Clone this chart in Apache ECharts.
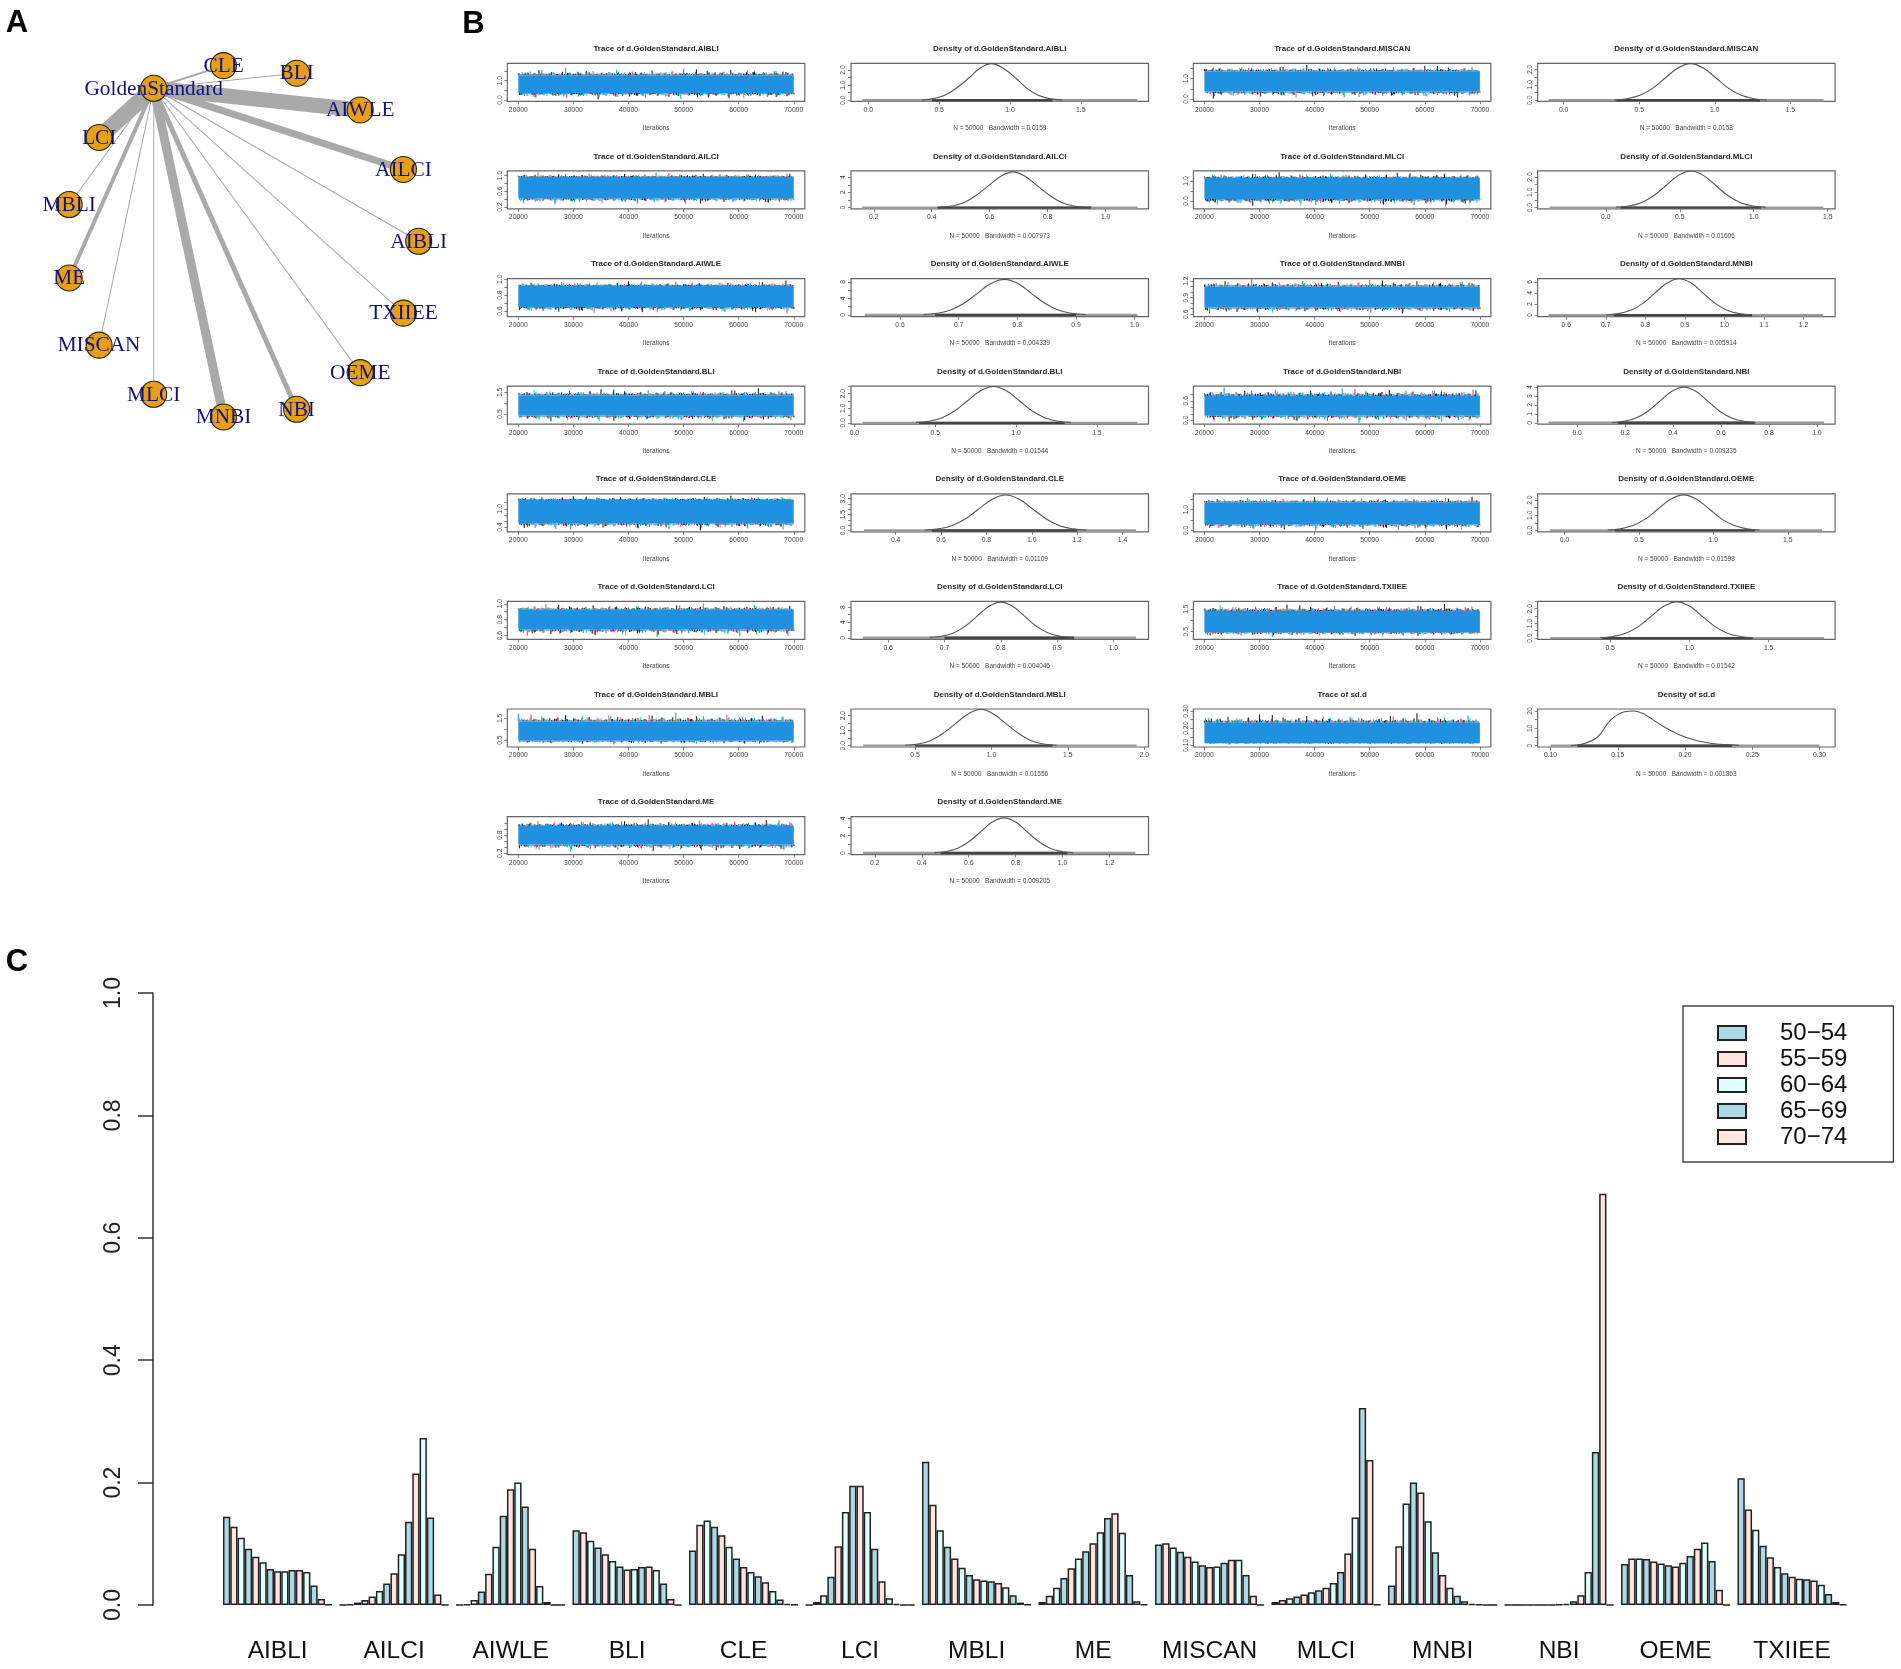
<!DOCTYPE html>
<html><head><meta charset="utf-8">
<style>html,body{margin:0;padding:0;background:#fff}#c{width:1901px;height:1669px}#c canvas{filter:blur(.45px)}</style>
<script src="https://cdn.jsdelivr.net/npm/echarts@6/dist/echarts.min.js"></script>
</head><body><div id="c"></div>
<script>
// ---------- Panel A data ----------
const networkNodes = ['AIBLI','TXIIEE','OEME','NBI','MNBI','MLCI','MISCAN','ME','MBLI','LCI','GoldenStandard','CLE','BLI','AIWLE','AILCI'];
const networkHub = 'GoldenStandard';
const networkWeights = {AIBLI:1,TXIIEE:1,OEME:1,NBI:5,MNBI:9,MLCI:1,MISCAN:1,ME:4,MBLI:1,LCI:16,CLE:2,BLI:1,AIWLE:15,AILCI:7};

// ---------- Panel B data ----------
const tracePanels = ['AIBLI','AILCI','AIWLE','BLI','CLE','LCI','MBLI','ME','MISCAN','MLCI','MNBI','NBI','OEME','TXIIEE','sd.d'];
const bandwidths = ['0.0159','0.007973','0.004339','0.01544','0.01109','0.004046','0.01556','0.009205','0.0158','0.01606','0.005914','0.009335','0.01598','0.01542','0.001863'];
const traceXTicks = [20000,30000,40000,50000,60000,70000];
const traceYRange = [[-.07,1.9],[.15,1.118],[.53,1.008],[.023,1.79],[.247,1.49],[.552,1.03],[.18,1.93],[.156,1.42],[-.115,1.75],[-.4,1.5],[.558,1.247],[-.12,1.05],[-.063,1.746],[.157,1.84],[.0904,.3116]];
const traceYTicks = [[0,.5,1,1.5],[.2,.4,.6,.8,1],[.6,.7,.8,.9,1],[.5,1,1.5],[.4,.6,.8,1,1.2],[.6,.7,.8,.9,1],[.5,1,1.5],[.2,.4,.6,.8,1,1.2],[0,.5,1,1.5],[0,.5,1],[.6,.7,.8,.9,1,1.1,1.2],[0,.2,.4,.6,.8],[0,.5,1,1.5],[.5,1,1.5],[.1,.15,.2,.25,.3]];
const traceYLabels = [[0,1],[.2,.6,1],[.6,.8,1],[.5,1.5],[.4,1],[.6,.8,1],[.5,1.5],[.2,.8],[0,1],[0,1],[.6,.9,1.2],[0,.6],[0,1],[.5,1.5],[.1,.2,.3]];
const traceBand = [[.36,1.28],[.42,.96],[.65,.915],[.42,1.37],[.53,1.29],[.68,.925],[.47,1.35],[.49,1.11],[.36,1.36],[.09,1.14],[.72,1.10],[.15,.75],[.3,1.34],[.47,1.42],[.114,.232]];
const traceSpikeEnds = [[.02,1.65],[.26,1.08],[.567,.98],[.12,1.68],[.29,1.42],[.58,1.0],[.3,1.76],[.25,1.33],[.02,1.66],[-.28,1.43],[.61,1.23],[-.08,1.0],[0,1.6],[.28,1.72],[.105,.285]];
const spikeUp = [.18,.32,.12,.44,.22,.09,.62,.27,.15,.36,.11,.24,.95,.3,.14,.41,.2,.08,.33,.52,.17,.26,.1,.38,.21,.7,.13,.29,.16,.47,.09,.25,.35,.12,.58,.23,.19,.31,.07,.43,.16,.28,.83,.2,.11,.37,.24,.14,.5,.18,.3,.1,.4,.22,.66,.15,.27,.12,.34,.19,.45,.08,.26,.31,.13,.55,.21,.17,.39,.1];
const spikeDown = [.24,.1,.39,.17,.56,.13,.28,.42,.09,.21,.34,.15,.72,.26,.12,.47,.19,.31,.08,.23,.91,.16,.37,.11,.29,.53,.14,.2,.44,.1,.33,.18,.64,.25,.07,.38,.15,.3,.49,.12,.22,.8,.17,.35,.09,.27,.41,.13,.6,.2,.32,.11,.24,.46,.16,.1,.36,.75,.19,.28,.08,.4,.14,.52,.23,.12,.3,.18,.43,.09];
const chainColors = ['#1c1c1c','#2090e0','#d9505c','#2090e0','#1c1c1c','#27b070','#2090e0','#36c4d8','#1c1c1c','#cf62b8'];

const densityXTicks = [[0,.5,1,1.5],[.2,.4,.6,.8,1],[.6,.7,.8,.9,1],[0,.5,1,1.5],[.4,.6,.8,1,1.2,1.4],[.6,.7,.8,.9,1],[.5,1,1.5,2],[.2,.4,.6,.8,1,1.2],[0,.5,1,1.5],[0,.5,1,1.5],[.6,.7,.8,.9,1,1.1,1.2],[0,.2,.4,.6,.8,1],[0,.5,1,1.5],[.5,1,1.5],[.1,.15,.2,.25,.3]];
const densityXRange = [[-.122,1.978],[.1215,1.148],[.5166,1.0236],[-.021,1.819],[.2034,1.5145],[.534,1.0623],[.0804,2.028],[.0985,1.366],[-.172,1.796],[-.461,1.55],[.5275,1.28],[-.165,1.076],[-.181,1.818],[.0425,1.919],[.0904,.3116]];
const densityYRange = [[-.066,2.44],[-.17,4.82],[-.4,8.8],[-.09,2.52],[-.125,3.47],[-.43,9.48],[-.09,2.44],[-.19,4.19],[-.065,2.39],[-.087,2.39],[-.24,6.6],[-.15,4.11],[-.09,2.42],[-.09,2.5],[-.76,21.1]];
const densityYTicks = [[0,.5,1,1.5,2],[0,1,2,3,4],[0,2,4,6,8],[0,.5,1,1.5,2,2.5],[0,.5,1,1.5,2,2.5,3],[0,2,4,6,8],[0,.5,1,1.5,2],[0,1,2,3,4],[0,.5,1,1.5,2],[0,.5,1,1.5,2],[0,2,4,6],[0,1,2,3,4],[0,.5,1,1.5,2],[0,.5,1,1.5,2,2.5],[0,5,10,15,20]];
const densityYLabels = [[0,1,2],[0,2,4],[0,4,8],[0,1,2],[0,1.5,3],[0,4,8],[0,1,2],[0,2,4],[0,1,2],[0,1,2],[0,2,4,6],[0,1,2,3,4],[0,1,2],[0,1,2],[0,10,20]];
const densityCurveX = [
 [.38,.46,.54,.62,.71,.79,.87,.95,1.04,1.12,1.2,1.28,1.37],
 [.425,.47,.51,.55,.595,.64,.68,.72,.765,.81,.85,.89,.935],
 [.64,.663,.686,.709,.732,.755,.778,.801,.824,.847,.87,.893,.916],
 [.38,.46,.54,.62,.7,.78,.86,.94,1.02,1.1,1.18,1.26,1.34],
 [.528,.588,.647,.707,.766,.826,.885,.945,1.004,1.064,1.123,1.183,1.242],
 [.674,.695,.716,.737,.758,.779,.8,.821,.842,.863,.884,.905,.926],
 [.435,.52,.6,.68,.765,.85,.93,1.01,1.095,1.18,1.26,1.34,1.425],
 [.455,.505,.553,.602,.652,.7,.75,.8,.848,.898,.947,.996,1.045],
 [.335,.42,.504,.588,.672,.756,.84,.924,1.008,1.092,1.176,1.26,1.345],
 [.07,.155,.239,.323,.407,.491,.575,.659,.743,.827,.911,.995,1.08],
 [.7,.733,.763,.794,.824,.855,.885,.916,.946,.977,1.007,1.038,1.068],
 [.145,.195,.245,.295,.345,.395,.445,.495,.545,.595,.645,.695,.745],
 [.29,.375,.46,.545,.63,.715,.8,.885,.97,1.055,1.14,1.225,1.31],
 [.437,.518,.598,.68,.76,.84,.92,1,1.08,1.16,1.24,1.32,1.4],
 [.115,.125,.135,.145,.155,.162,.17,.18,.19,.2,.21,.22,.23,.24]];
const densityCurveY = [
 [.03,.11,.33,.79,1.47,2.13,2.42,2.13,1.47,.79,.33,.11,.03],
 [.05,.21,.63,1.53,2.85,4.15,4.7,4.15,2.85,1.53,.63,.21,.05],
 [.09,.38,1.16,2.8,5.22,7.59,8.6,7.59,5.22,2.8,1.16,.38,.09],
 [.03,.11,.34,.81,1.52,2.2,2.5,2.2,1.52,.81,.34,.11,.03],
 [.04,.15,.45,1.09,2.03,2.95,3.35,2.95,2.03,1.09,.45,.15,.04],
 [.1,.41,1.26,3.02,5.65,8.2,9.3,8.2,5.65,3.02,1.26,.41,.1],
 [.03,.11,.33,.79,1.47,2.13,2.42,2.13,1.47,.79,.33,.11,.03],
 [.04,.18,.55,1.32,2.46,3.57,4.05,3.57,2.46,1.32,.55,.18,.04],
 [.03,.1,.32,.77,1.44,2.09,2.37,2.09,1.44,.77,.32,.1,.03],
 [.03,.1,.32,.77,1.44,2.1,2.38,2.1,1.44,.77,.32,.1,.03],
 [.07,.29,.88,2.13,3.98,5.78,6.55,5.78,3.98,2.13,.88,.29,.07],
 [.04,.18,.54,1.3,2.43,3.53,4,3.53,2.43,1.3,.54,.18,.04],
 [.03,.1,.32,.76,1.43,2.07,2.35,2.07,1.43,.76,.32,.1,.03],
 [.03,.11,.33,.8,1.5,2.18,2.47,2.18,1.5,.8,.33,.11,.03],
 [.1,1.2,5,15,19.5,20,18,13,8.5,5,2.7,1.3,.6,.2]];
const rugExtent = [[-.044,1.9],[.16,1.11],[.54,1.005],[.05,1.75],[.26,1.46],[.555,1.04],[.16,1.95],[.15,1.31],[-.1,1.72],[-.38,1.47],[.555,1.25],[-.12,1.03],[-.1,1.73],[.12,1.85],[.1,.3]];
const rugCore = [[.45,1.3],[.42,.95],[.66,.9],[.4,1.3],[.56,1.2],[.7,.93],[.5,1.4],[.48,1.02],[.35,1.3],[.1,1.05],[.72,1.07],[.17,.74],[.34,1.28],[.45,1.4],[.12,.235]];

// ---------- Panel C data ----------
const methods = ['AIBLI','AILCI','AIWLE','BLI','CLE','LCI','MBLI','ME','MISCAN','MLCI','MNBI','NBI','OEME','TXIIEE'];
const legendLabels = ['50−54','55−59','60−64','65−69','70−74'];
const barColors = ['#add8e6','#ffe4e1','#e0ffff'];
const rankValues = {
 AIBLI:[.144,.128,.110,.092,.079,.070,.059,.055,.055,.057,.057,.054,.032,.010,.0005],
 AILCI:[0,.001,.004,.008,.014,.023,.035,.052,.083,.136,.215,.273,.143,.017,0],
 AIWLE:[0,.001,.008,.022,.051,.095,.146,.189,.200,.161,.092,.031,.005,0,0],
 BLI:[.122,.119,.105,.094,.083,.072,.063,.058,.059,.062,.063,.057,.035,.010,0],
 CLE:[.089,.131,.138,.128,.114,.095,.076,.062,.054,.047,.037,.023,.009,.002,.0005],
 LCI:[0,.005,.016,.046,.096,.152,.195,.195,.152,.092,.039,.011,.002,0,0],
 MBLI:[.234,.164,.122,.095,.076,.061,.049,.042,.040,.039,.036,.029,.016,.004,.0005],
 ME:[.005,.015,.028,.044,.060,.076,.088,.101,.119,.142,.150,.118,.049,.006,.0005],
 MISCAN:[.099,.101,.094,.087,.079,.071,.065,.062,.063,.069,.074,.074,.049,.015,0],
 MLCI:[.005,.008,.011,.014,.017,.021,.024,.028,.036,.054,.084,.143,.322,.237,.0005],
 MNBI:[.032,.096,.166,.200,.184,.137,.086,.049,.028,.015,.006,.002,.0005,0,0],
 NBI:[0,0,0,0,0,0,0,.0005,.002,.006,.016,.054,.25,.672,0],
 OEME:[.067,.076,.076,.075,.071,.068,.065,.063,.069,.080,.092,.102,.072,.025,0],
 TXIIEE:[.207,.156,.123,.097,.078,.062,.052,.046,.043,.042,.040,.033,.018,.005,.0005]
};

// ---------- Assemble ----------
const SANS = '"Liberation Sans", Arial, sans-serif';
const SERIF = '"Liberation Serif", "Times New Roman", serif';
const grids = [], xAxes = [], yAxes = [], series = [], graphics = [];

function text(str, x, y, size, weight, fill) {
  graphics.push({type:'text', x, y, silent:true, style:{text:str, font:(weight||'normal')+' '+size+'px '+SANS,
    fill:fill||'#2a2a2a', align:'center', verticalAlign:'middle', textAlign:'center', textVerticalAlign:'middle'}});
}
[['A',17,23],['B',473.5,24],['C',17,962.5]].forEach(l => text(l[0], l[1], l[2], 31, 'bold', '#000'));

const colLeft = [507.3, 851, 1193.4, 1537.6], boxW = 297.5, boxH = 38, rowTop = 63.3, rowStep = 107.62;
const smallFont = {fontFamily:SANS, fontSize:6.8, color:'#444'};

function addPanel(left, top, xr, yr, xt, yt, yl, ylDec, xDec, xName) {
  const g = grids.length;
  grids.push({left, top, width:boxW, height:boxH, show:true, borderColor:'#666', borderWidth:1.2, backgroundColor:'#fff', containLabel:false});
  xAxes.push({type:'value', gridIndex:g, min:xr[0], max:xr[1], splitLine:{show:false}, axisLine:{show:false, onZero:false},
    axisTick:{show:true, length:3, customValues:xt, lineStyle:{color:'#666', width:.8}},
    axisLabel:{...smallFont, margin:5, customValues:xt, formatter:v => xDec==null ? String(v) : (+v).toFixed(xDec)},
    name:xName, nameLocation:'middle', nameGap:23.5, nameTextStyle:{...smallFont, fontSize:6.5}});
  yAxes.push({type:'value', gridIndex:g, min:yr[0], max:yr[1], splitLine:{show:false}, axisLine:{show:false, onZero:false},
    axisTick:{show:true, length:3, customValues:yt, lineStyle:{color:'#666', width:.8}},
    axisLabel:{...smallFont, rotate:90, margin:4, customValues:yl, formatter:v => (+v).toFixed(ylDec)}});
  return g;
}

tracePanels.forEach((name, i) => {
  const col = i < 8 ? 0 : 2, row = i < 8 ? i : i - 8, top = rowTop + row * rowStep;
  const label = name === 'sd.d' ? 'sd.d' : 'd.GoldenStandard.' + name;
  const isSd = name === 'sd.d';
  // trace panel
  const tl = colLeft[col];
  text('Trace of ' + label, tl + boxW / 2, top - 14.5, 8, 'bold');
  const yDec = isSd ? 2 : 1;
  const gt = addPanel(tl, top, [18000, 72000], traceYRange[i], traceXTicks, traceYTicks[i], traceYLabels[i], yDec, null, 'Iterations');
  const [lo, hi] = traceBand[i], [sLo, sHi] = traceSpikeEnds[i];
  const spikes = [];
  [[1, 0], [.8, 37], [.55, 17], [.4, 53]].forEach(([amp, shift], pass) => {
    const n = spikeUp.length;
    for (let k = 0; k < n; k++) {
      const u = spikeUp[(k + i * 7 + shift) % n] * amp + .08, d = spikeDown[(k + i * 11 + shift) % n] * amp + .08;
      const x = 20000 + (k + pass * .25) * 50000 / n;
      spikes.push([x, hi, hi + u * (sHi - hi), (k + i + pass * 3) % chainColors.length]);
      spikes.push([x + 200, lo, lo - d * (lo - sLo), (k + 2 * i + pass * 5) % chainColors.length]);
    }
  });
  series.push({type:'custom', xAxisIndex:gt, yAxisIndex:gt, clip:true, silent:true, data:spikes, encode:{x:0, y:[1,2]},
    renderItem:(p, api) => {
      const a = api.coord([api.value(0), api.value(1)]), b = api.coord([api.value(0), api.value(2)]);
      return {type:'line', shape:{x1:a[0], y1:a[1], x2:b[0], y2:b[1]}, style:{stroke:chainColors[api.value(3)], lineWidth:1.05}};
    }});
  series.push({type:'custom', xAxisIndex:gt, yAxisIndex:gt, clip:true, silent:true, data:[[20000, 70000, lo, hi]], encode:{x:[0,1], y:[2,3]},
    renderItem:(p, api) => {
      const a = api.coord([api.value(0), api.value(3)]), b = api.coord([api.value(1), api.value(2)]);
      return {type:'rect', shape:{x:a[0], y:a[1], width:b[0]-a[0], height:b[1]-a[1]}, style:{fill:'#2090e0'}};
    }});
  // density panel
  const dl = colLeft[col + 1];
  text('Density of ' + label, dl + boxW / 2, top - 14.5, 8, 'bold');
  const dec = densityYLabels[i].some(v => v % 1) || densityYTicks[i].some(v => v % 1) ? 1 : 0;
  const gd = addPanel(dl, top, densityXRange[i], densityYRange[i], densityXTicks[i], densityYTicks[i], densityYLabels[i], dec, isSd ? 2 : 1,
    'N = 50000   Bandwidth = ' + bandwidths[i]);
  series.push({type:'line', xAxisIndex:gd, yAxisIndex:gd, silent:true, symbol:'none', lineStyle:{color:'#9a9a9a', width:2.4}, data:rugExtent[i].map(x => [x, 0])});
  series.push({type:'line', xAxisIndex:gd, yAxisIndex:gd, silent:true, symbol:'none', lineStyle:{color:'#444', width:2.4}, data:rugCore[i].map(x => [x, 0])});
  series.push({type:'line', xAxisIndex:gd, yAxisIndex:gd, silent:true, symbol:'none', smooth:.4, lineStyle:{color:'#555', width:1.1},
    data:densityCurveX[i].map((x, k) => [x, densityCurveY[i][k]])});
});

// Panel C
const gC = grids.length;
grids.push({left:219.35, top:993, width:1631, height:612, show:false});
xAxes.push({type:'category', gridIndex:gC, data:methods, axisLine:{show:false}, axisTick:{show:false},
  axisLabel:{fontFamily:SANS, fontSize:24.5, color:'#111', margin:34, interval:0}});
yAxes.push({type:'value', gridIndex:gC, min:0, max:1, interval:.2, offset:66.35, splitLine:{show:false},
  axisLine:{show:true, lineStyle:{color:'#333', width:1.5}}, axisTick:{show:true, length:15, lineStyle:{color:'#333', width:1.5}},
  axisLabel:{fontFamily:SANS, fontSize:23, color:'#222', rotate:90, margin:28, formatter:v => (+v).toFixed(1)}});
for (let r = 0; r < 15; r++) {
  series.push({type:'bar', name:legendLabels[r] || ('Rank ' + (r + 1)), xAxisIndex:gC, yAxisIndex:gC, barGap:'0%', barCategoryGap:'6.25%', silent:true,
    itemStyle:{color:barColors[r % 3], borderColor:'#222', borderWidth:1.5},
    data:methods.map(m => rankValues[m][r])});
}

// Panel A: nodes equally spaced on a ring, the way igraph's circular layout places them, first node at 3 o'clock
const ringScale = 1000;
series.push({type:'graph', layout:'none', left:69.2, top:65.6, width:349.5, height:351.4, silent:true, roam:false,
  symbol:'circle', symbolSize:26, itemStyle:{color:'#e8a013', borderColor:'#222', borderWidth:1.1, opacity:1},
  label:{show:true, position:'inside', fontFamily:SERIF, fontSize:21.3, color:'#12127f', offset:[0,.6]},
  lineStyle:{color:'#a9a9a9', opacity:1, curveness:0},
  data:networkNodes.map((n, k) => {
    const a = 2 * Math.PI * k / networkNodes.length;
    return {name:n, x:ringScale * Math.cos(a), y:ringScale * Math.sin(a)};
  }),
  links:Object.keys(networkWeights).map(n => ({source:networkHub, target:n, lineStyle:{width:networkWeights[n]}}))});

const chart = echarts.init(document.getElementById('c'), null, {renderer:'canvas', width:1901, height:1669});
chart.setOption({
  animation:false, backgroundColor:'#fff', tooltip:{show:false},
  grid:grids, xAxis:xAxes, yAxis:yAxes, series, graphic:graphics,
  legend:{show:true, left:1683, top:1006, orient:'vertical', padding:[15,46,13,34], itemGap:2, itemWidth:28, itemHeight:14, icon:'rect',
    selectedMode:false, borderColor:'#444', borderWidth:1.4,
    data:legendLabels, textStyle:{fontFamily:SANS, fontSize:24, color:'#111', padding:[0,0,0,29]}}
});
</script></body></html>
